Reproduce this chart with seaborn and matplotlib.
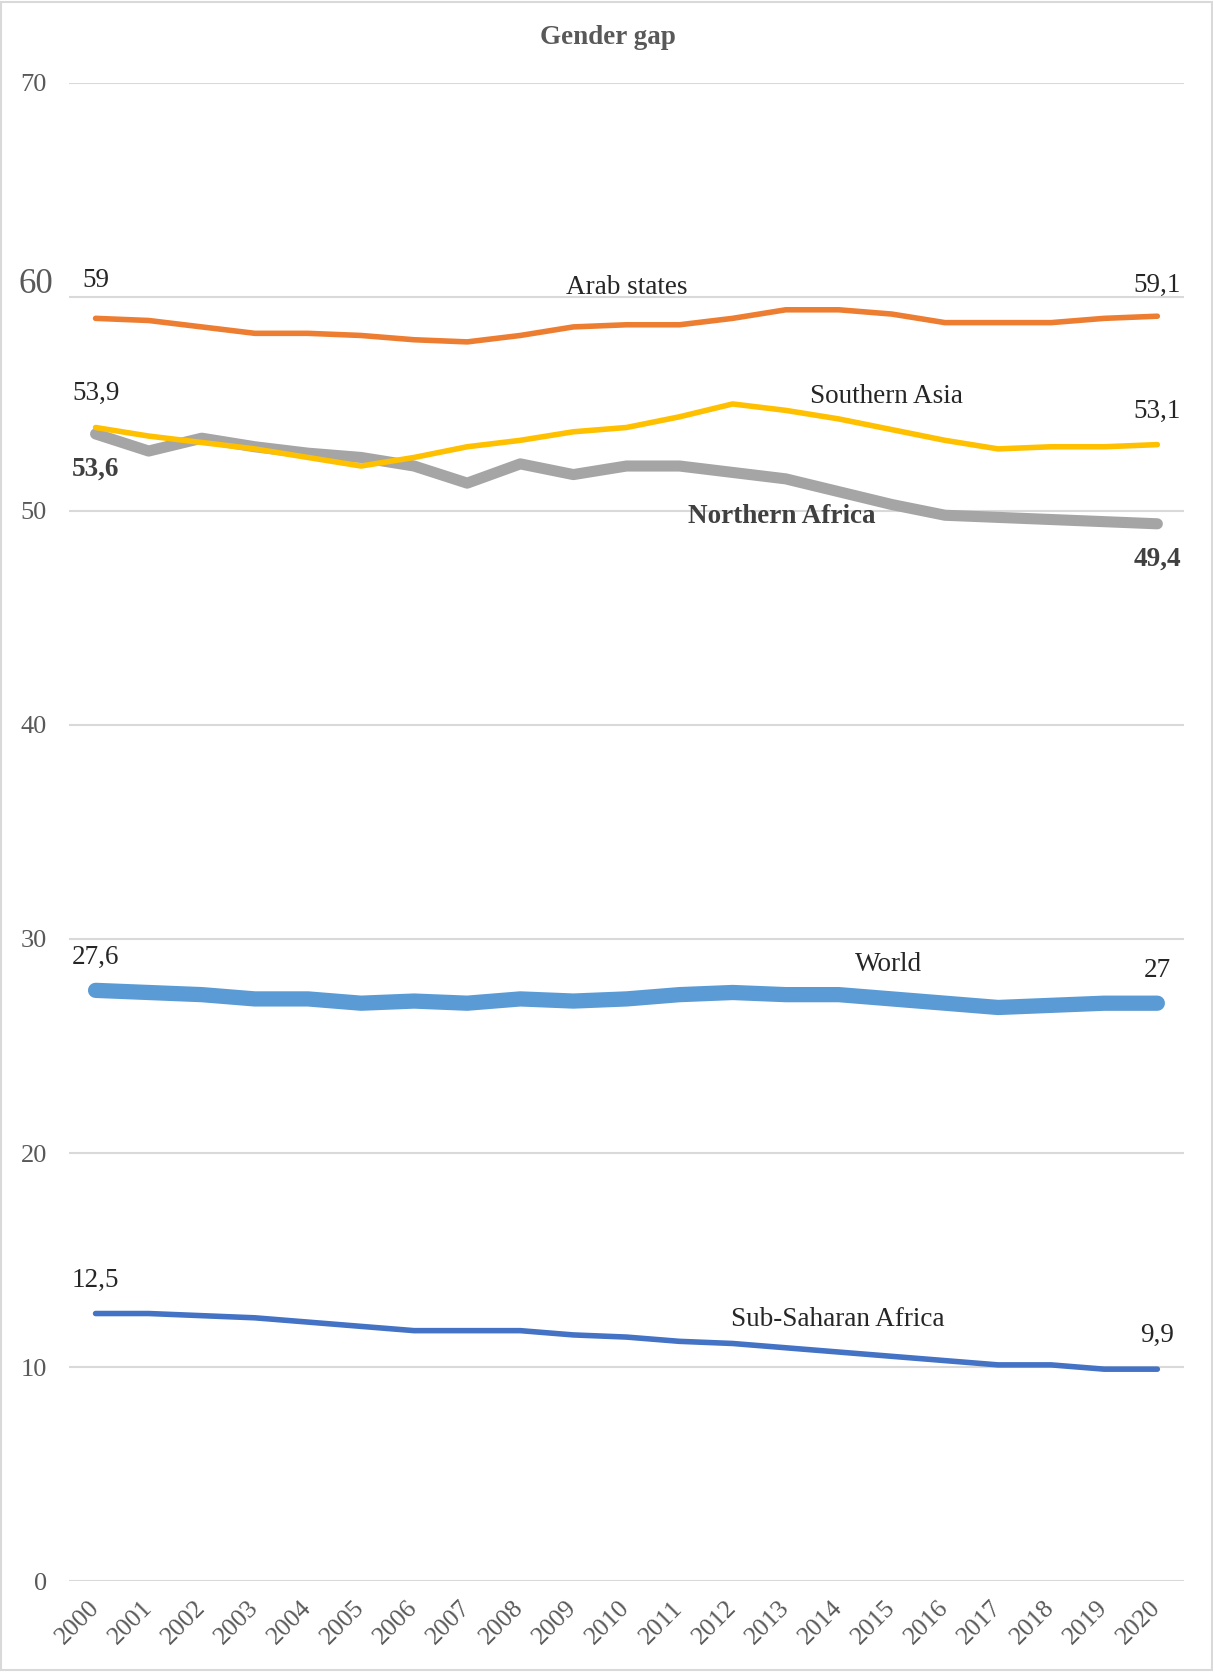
import numpy as np
import pandas as pd
import matplotlib
matplotlib.use("Agg")
import matplotlib.pyplot as plt
import seaborn as sns

years = list(range(2000, 2021))
arab_states = [59.0, 58.9, 58.6, 58.3, 58.3, 58.2, 58.0, 57.9, 58.2, 58.6, 58.7,
               58.7, 59.0, 59.4, 59.4, 59.2, 58.8, 58.8, 58.8, 59.0, 59.1]
southern_asia = [53.9, 53.5, 53.2, 52.9, 52.5, 52.1, 52.5, 53.0, 53.3, 53.7, 53.9,
                 54.4, 55.0, 54.7, 54.3, 53.8, 53.3, 52.9, 53.0, 53.0, 53.1]
northern_africa = [53.6, 52.8, 53.4, 53.0, 52.7, 52.5, 52.1, 51.3, 52.2, 51.7, 52.1,
                   52.1, 51.8, 51.5, 50.9, 50.3, 49.8, 49.7, 49.6, 49.5, 49.4]
world = [27.6, 27.5, 27.4, 27.2, 27.2, 27.0, 27.1, 27.0, 27.2, 27.1, 27.2,
         27.4, 27.5, 27.4, 27.4, 27.2, 27.0, 26.8, 26.9, 27.0, 27.0]
sub_saharan = [12.5, 12.5, 12.4, 12.3, 12.1, 11.9, 11.7, 11.7, 11.7, 11.5, 11.4,
               11.2, 11.1, 10.9, 10.7, 10.5, 10.3, 10.1, 10.1, 9.9, 9.9]
y_ticks = [0, 10, 20, 30, 40, 50, 60, 70]
title = "Gender gap"

sns.set_theme(style="white")
plt.rcParams['font.family'] = ['Liberation Serif', 'DejaVu Serif']

fig = plt.figure(figsize=(12.13, 16.72), dpi=100)
ax = fig.add_axes([0.0569, 0.0544, 0.976 - 0.0569, 0.9504 - 0.0544])

grey_txt = "#595959"
dark_txt = "#404040"

series = [
    ("Sub-Saharan Africa", sub_saharan, "#4472C4", 4.0),
    ("World", world, "#5B9BD5", 11.0),
    ("Northern Africa", northern_africa, "#A5A5A5", 8.0),
    ("Southern Asia", southern_asia, "#FFC000", 4.0),
    ("Arab states", arab_states, "#ED7D31", 4.0),
]
for name, vals, col, lw in series:
    df = pd.DataFrame({"year": years, "value": vals})
    sns.lineplot(data=df, x="year", y="value", color=col, linewidth=lw, ax=ax,
                 solid_capstyle="round", solid_joinstyle="round")

ax.set_xlim(1999.5, 2020.5)
ax.set_ylim(0, 70)
ax.set_yticks(y_ticks)
ax.set_yticklabels(["" if v == 60 else str(v) for v in y_ticks])
ax.set_xticks(years)
ax.set_xticklabels([str(y) for y in years], rotation=45, ha="right",
                   rotation_mode="anchor", va="center")
ax.tick_params(axis="y", length=0, pad=16, labelsize=19, labelcolor=grey_txt)
ax.tick_params(axis="x", length=0, pad=17, labelsize=18.5, labelcolor=grey_txt)
# the "60" label is drawn larger and slightly higher in the original
ax.text(-0.0143, 60.6, "60", transform=ax.get_yaxis_transform(), ha="right",
        va="center", fontsize=25, color=grey_txt)
ax.set_xlabel("")
ax.set_ylabel("")
ax.yaxis.grid(True, color="#d9d9d9", linewidth=1.5)
ax.xaxis.grid(False)
ax.set_axisbelow(True)
for s in ax.spines.values():
    s.set_visible(False)

fig.text(0.501, 1 - 37 / 1672, title, ha="center", va="center", fontsize=19.5,
         fontweight="bold", color=grey_txt)

fs = 19.5
ann = [
    ("59", 2000, 60.75, "normal"),
    ("Arab states", 2010.0, 60.42, "normal"),
    ("59,1", 2020, 60.56, "normal"),
    ("53,9", 2000, 55.47, "normal"),
    ("53,6", 2000, 51.96, "bold"),
    ("Southern Asia", 2014.9, 55.33, "normal"),
    ("53,1", 2020, 54.67, "normal"),
    ("Northern Africa", 2012.93, 49.72, "bold"),
    ("49,4", 2020, 47.76, "bold"),
    ("27,6", 2000, 29.16, "normal"),
    ("World", 2014.94, 28.79, "normal"),
    ("27", 2020, 28.55, "normal"),
    ("12,5", 2000, 14.07, "normal"),
    ("Sub-Saharan Africa", 2013.98, 12.24, "normal"),
    ("9,9", 2020, 11.5, "normal"),
]
for txt, x, y, w in ann:
    ax.text(x, y, txt, ha="center", va="center", fontsize=fs, fontweight=w,
            color=dark_txt if w == "bold" else "#262626")

border = plt.Rectangle((0.001, 0.001), 0.998, 0.998, transform=fig.transFigure,
                       fill=False, edgecolor="#d9d9d9", linewidth=1.5)
fig.patches.append(border)

fig.savefig("out.png", dpi=100, facecolor="white")
